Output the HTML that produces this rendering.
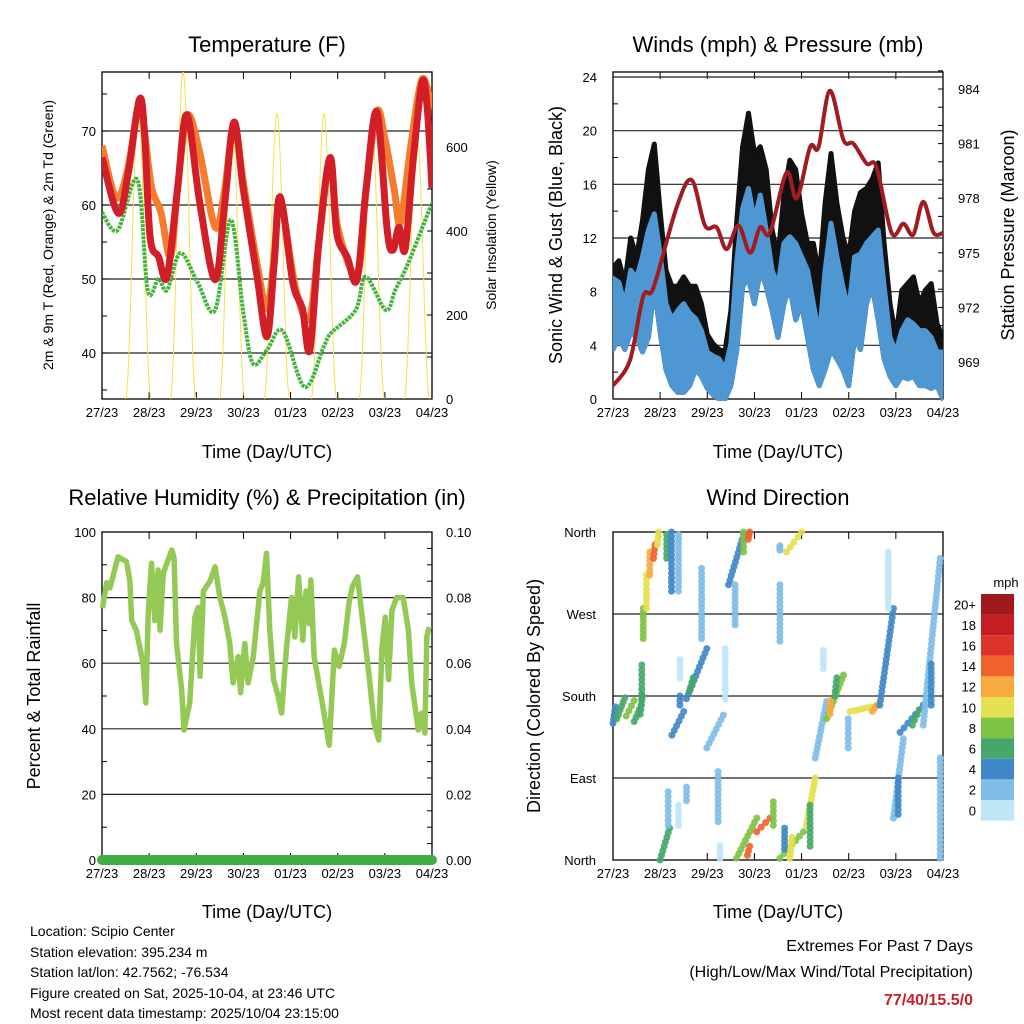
<!DOCTYPE html>
<html><head><meta charset="utf-8"><style>
html,body{margin:0;padding:0;background:#fff}
svg{display:block;font-family:"Liberation Sans",sans-serif}
</style></head><body>
<svg id="s" width="1024" height="1024" viewBox="0 0 1024 1024" xmlns="http://www.w3.org/2000/svg">
<g font-size="22" text-anchor="middle" fill="#000">
<text x="267" y="52">Temperature (F)</text>
<text x="778" y="52">Winds (mph) &amp; Pressure (mb)</text>
<text x="267" y="505">Relative Humidity (%) &amp; Precipitation (in)</text>
<text x="778" y="505">Wind Direction</text>
</g>
<g font-size="18" text-anchor="middle">
<text x="267" y="458">Time (Day/UTC)</text>
<text x="778" y="458">Time (Day/UTC)</text>
<text x="267" y="918">Time (Day/UTC)</text>
<text x="778" y="918">Time (Day/UTC)</text>
<text transform="translate(40,696) rotate(-90)">Percent &amp; Total Rainfall</text>
<text transform="translate(562,235) rotate(-90)">Sonic Wind &amp; Gust (Blue, Black)</text>
<text transform="translate(1014,235) rotate(-90)">Station Pressure (Maroon)</text>
<text transform="translate(540,696) rotate(-90)">Direction (Colored By Speed)</text>
</g>
<g font-size="14" text-anchor="middle">
<text transform="translate(53,235) rotate(-90)">2m &amp; 9m T (Red, Orange) &amp; 2m Td (Green)</text>
<text transform="translate(496,235) rotate(-90)">Solar Insolation (Yellow)</text>
</g>
<g font-size="14">
<text x="30" y="936">Location: Scipio Center</text>
<text x="30" y="957">Station elevation: 395.234 m</text>
<text x="30" y="977">Station lat/lon: 42.7562; -76.534</text>
<text x="30" y="998">Figure created on Sat, 2025-10-04, at 23:46 UTC</text>
<text x="30" y="1018">Most recent data timestamp: 2025/10/04 23:15:00</text>
</g>
<g font-size="16" text-anchor="end">
<text x="973" y="951">Extremes For Past 7 Days</text>
<text x="973" y="977">(High/Low/Max Wind/Total Precipitation)</text>
<text x="973" y="1005" fill="#c8202a" font-weight="bold">77/40/15.5/0</text>
</g>
</svg>
<script>
// ---- data ----
const dayLabels=["27/23","28/23","29/23","30/23","01/23","02/23","03/23","04/23"];
const tempTicks=[40,50,60,70];
const solarTicks=[0,200,400,600];
const windTicks=[0,4,8,12,16,20,24];
const presTicks=[969,972,975,978,981,984];
const rhTicks=[0,20,40,60,80,100];
const precipTicks=["0.00","0.02","0.04","0.06","0.08","0.10"];
const dirLabels=["North","East","South","West","North"];
const redT=[[0,66.4],[0.34,58.9],[0.55,64],[0.79,74.2],[0.9,70],[1.02,55.7],[1.2,53],[1.38,50.3],[1.6,62],[1.8,72.2],[2.08,60],[2.4,49.9],[2.6,60],[2.8,71.2],[3.0,62],[3.29,50.3],[3.5,42.2],[3.65,52],[3.78,61.1],[4.05,49.5],[4.25,46],[4.41,40.4],[4.6,55],[4.84,66.4],[4.98,56.2],[5.2,53],[5.41,49.9],[5.6,62],[5.83,72.6],[6.05,56.6],[6.17,53.9],[6.3,57],[6.43,54],[6.6,66],[6.79,76.6],[6.9,73],[7.0,62.3]];
const orangeT=[[0,68],[0.3,61],[0.55,65],[0.79,74],[0.9,70],[1.05,62.4],[1.25,59],[1.45,53],[1.6,62],[1.8,72],[2.05,67.8],[2.4,57],[2.6,62],[2.8,71],[3.0,63],[3.29,52],[3.5,46],[3.65,53],[3.78,61],[4.1,48.9],[4.4,44.7],[4.6,55],[4.84,66],[5.0,57],[5.41,50.5],[5.6,62],[5.83,72.6],[6.0,69],[6.2,62],[6.33,57.6],[6.55,68],[6.79,77],[7.0,73]];
const dewT=[[0,59],[0.33,56.6],[0.75,63.4],[0.97,48.5],[1.2,50],[1.38,48.5],[1.66,53.5],[2.03,49.5],[2.4,45.8],[2.73,58],[3.0,45.4],[3.2,38.6],[3.5,40.4],[3.83,43],[4.3,35.4],[4.7,40.8],[4.86,42.7],[5.38,45.8],[5.59,50.3],[6.02,45.8],[6.22,48.5],[6.5,52.2],[6.94,59.3],[7,60]];
const solarDay=[0.77,1.72,2.76,3.71,4.71,5.72,6.68];
const solarPeak=[688,780,660,681,681,664,633];
const windT=[0,0.125,0.25,0.375,0.5,0.625,0.75,0.875,1,1.125,1.25,1.375,1.5,1.625,1.75,1.875,2,2.125,2.25,2.375,2.5,2.625,2.75,2.875,3,3.125,3.25,3.375,3.5,3.625,3.75,3.875,4,4.125,4.25,4.375,4.5,4.625,4.75,4.875,5,5.125,5.25,5.375,5.5,5.625,5.75,5.875,6,6.125,6.25,6.375,6.5,6.625,6.75,6.875,7];
const gustHi=[9.8,10.3,8.6,12,10.6,13.3,17.1,19,14,9.6,8.4,8.4,9.1,8.4,8.4,7.1,4.8,4.1,3.7,3.5,6.6,13.3,18.8,21.3,18.3,18.8,17.1,12.6,10.6,15.2,17.8,17.1,13.8,11.6,11.6,9.1,14.6,18.3,14.6,12.1,10.6,14,15.4,15.7,16.4,17.6,11.6,7.1,4.6,8.1,8.6,9.1,7.1,8.1,8.6,5.6,4.6];
const sonicHi=[9,8.7,7,9.6,9,10.6,12.6,13.8,10.8,7.1,5.9,6.6,7.1,6.4,6,5.1,3.5,3.2,3,2.2,4.1,10.3,14.2,15.7,13.3,15.2,12.6,9.6,8.4,11.6,12.1,11.6,10.6,9.6,7.1,4.6,9.6,13.1,10.6,8.4,6.6,10.6,10.8,11.6,12.1,12.6,8.4,4.6,3.5,5.1,5.9,5.6,5.1,5.1,4.6,3.5,3.5];
const sonicLo=[3.7,4.6,3.7,5,4.6,3.5,4.6,8.4,5,2.2,1,0.5,0.5,1,2.2,1.7,0.8,0.3,0,0,1,3.7,8.4,9,7.1,9.6,8.4,6.6,4.6,7.1,8.4,5.9,7.1,4.6,2.2,1,2.2,3.7,3,2.2,1,4.6,3.7,7.1,8.4,5.9,3,1.7,1,1.7,1.5,1.7,1,1,0.8,1,0];
const presT=[[0,967.7],[0.36,969.1],[0.64,972.6],[0.86,973.1],[1.35,977.5],[1.67,979],[1.95,976.5],[2.2,976.4],[2.41,975.2],[2.66,976.5],[2.91,975],[3.12,976.4],[3.33,976.1],[3.68,979.4],[3.9,978],[4.18,980.8],[4.36,980.8],[4.6,983.9],[4.89,981.2],[5.1,981],[5.38,979.9],[5.59,979.7],[5.91,976.1],[6.16,976.6],[6.37,976],[6.58,977.8],[6.8,976.1],[7,976.1]];
const rhT=[[0.01,76.8],[0.1,84.5],[0.17,83],[0.34,92.4],[0.52,91],[0.59,85.4],[0.63,73],[0.73,70],[0.8,65],[0.87,60],[0.93,47.9],[0.98,75],[1.05,90.5],[1.12,73],[1.19,88.4],[1.23,70],[1.3,87.5],[1.48,94.5],[1.53,92],[1.58,66],[1.69,51.8],[1.74,39.6],[1.86,47.8],[1.97,74],[2.04,77],[2.08,56],[2.15,82],[2.29,85],[2.4,89.4],[2.5,80],[2.61,74],[2.71,66],[2.78,54],[2.89,62],[2.94,51],[3.03,66],[3.1,54],[3.21,62],[3.35,82],[3.42,84.5],[3.49,93.5],[3.56,70],[3.64,55],[3.74,49.8],[3.81,44.8],[3.91,64],[4.02,80],[4.09,68],[4.17,86.3],[4.26,67],[4.33,82],[4.4,72],[4.43,85.4],[4.5,62],[4.65,49.8],[4.82,35],[4.93,64],[5.03,59],[5.14,66],[5.24,78.3],[5.31,83.3],[5.42,86.3],[5.52,74],[5.66,57],[5.77,41.8],[5.87,36.6],[5.94,65],[6.01,74],[6.08,55],[6.15,76],[6.25,80],[6.39,80],[6.5,70],[6.57,54],[6.71,39.6],[6.78,44.8],[6.85,38.7],[6.89,68],[6.94,71]];
const precipT=[[0,0],[7,0]];
// wind direction clusters: [t0,t1,dirLo,dirHi,speed]
const dirClusters=[[0,0.05,150,168,4],[0.08,0.25,155,178,7],[0.28,0.45,158,175,8],[0.45,0.6,152,170,7],[0.58,0.62,160,180,7],[0.61,0.61,177,214,6],[0.64,0.64,243,276,8],[0.71,0.71,276,313,10],[0.78,0.78,313,338,12],[0.86,0.89,331,346,14],[0.94,0.97,346,360,11],[1.14,1.14,331,357,6],[1.24,1.24,295,360,4],[1.39,1.39,295,357,2],[1.0,1.2,0,35,6],[1.17,1.17,38,75,2],[1.39,1.39,38,60,1],[1.25,1.5,137,163,4],[1.42,1.42,170,180,5],[1.56,1.99,177,232,4],[1.62,1.7,185,200,6],[1.88,1.88,243,320,3],[1.42,1.42,200,220,1],[1.99,2.34,123,159,2],[2.38,2.38,177,232,1],[2.23,2.23,42,97,2],[1.56,1.56,65,80,2],[2.45,2.77,302,357,4],[2.59,2.59,258,302,3],[2.77,2.77,338,360,8],[2.87,2.9,352,360,14],[2.27,2.27,2,16,1],[2.62,3.05,2,46,8],[2.85,2.9,5,15,14],[3.05,3.33,31,46,15],[3.4,3.4,38,64,8],[3.54,4.04,2,31,9],[3.64,3.64,12,35,4],[3.75,3.8,2,25,11],[3.54,3.54,240,302,2],[3.54,3.54,340,345,3],[3.68,4.0,338,360,10],[4.1,4.29,38,90,10],[4.18,4.18,15,60,6],[4.29,4.53,112,174,3],[4.46,4.46,210,230,1],[4.53,4.89,155,203,9],[4.6,4.62,160,175,13],[4.7,4.75,180,200,7],[4.99,4.99,123,155,3],[5.03,5.66,163,170,11],[5.5,5.6,163,170,13],[5.66,5.95,170,276,4],[5.84,5.84,276,338,1],[5.95,6.16,46,133,2],[6.05,6.05,50,90,4],[6.09,6.58,140,170,5],[6.35,6.5,148,165,7],[6.58,6.94,148,331,2],[6.75,6.75,170,215,4],[6.94,6.94,2,112,2]];
const speedBins=["0","2","4","6","8","10","12","14","16","18","20+"];
const speedColors=["#bfe6f7","#80bde7","#3f87c7","#45a86a","#7dc245","#e4e04f","#f8aa40","#ef622d","#dc3428","#c21e24","#9e1a1c"];

// ---- helpers ----
const S=document.getElementById('s');
const NS="http://www.w3.org/2000/svg";
function mk(tag,attrs,parent){const e=document.createElementNS(NS,tag);for(const k in attrs)e.setAttribute(k,attrs[k]);(parent||S).appendChild(e);return e;}
function panel(x0,x1,y0,y1){return {x0,x1,y0,y1,sx:t=>x0+t*(x1-x0)/7};}
function lin(v0,p0,v1,p1){return v=>p0+(v-v0)*(p1-p0)/(v1-v0);}
function pathFrom(pts,sx,sy){return pts.map((p,i)=>(i?'L':'M')+sx(p[0]).toFixed(1)+','+sy(p[1]).toFixed(1)).join('');}
function smoothFrom(pts,sx,sy){const P=pts.map(p=>[sx(p[0]),sy(p[1])]);let d='M'+P[0][0].toFixed(1)+','+P[0][1].toFixed(1);
  for(let i=0;i<P.length-1;i++){const p0=P[Math.max(0,i-1)],p1=P[i],p2=P[i+1],p3=P[Math.min(P.length-1,i+2)];
    const c1=[p1[0]+(p2[0]-p0[0])/6,p1[1]+(p2[1]-p0[1])/6],c2=[p2[0]-(p3[0]-p1[0])/6,p2[1]-(p3[1]-p1[1])/6];
    d+='C'+c1[0].toFixed(1)+','+c1[1].toFixed(1)+' '+c2[0].toFixed(1)+','+c2[1].toFixed(1)+' '+p2[0].toFixed(1)+','+p2[1].toFixed(1);}
  return d;}
function frame(P,name){
  const g=mk('g',{});
  
  
  mk('rect',{x:P.x0,y:P.y0,width:P.x1-P.x0,height:P.y1-P.y0,fill:'none',stroke:'#000','stroke-width':1.3},g);
  for(let i=0;i<=7;i++){const x=P.sx(i);
    mk('line',{x1:x,x2:x,y1:P.y0,y2:P.y0+7,stroke:'#000'},g);
    mk('line',{x1:x,x2:x,y1:P.y1,y2:P.y1-7,stroke:'#000'},g);
    const t=mk('text',{x:x,y:P.y1+18,'font-size':13,'text-anchor':'middle'},g);t.textContent=dayLabels[i];
    
    
  }
  return g;
}
function hgrid(P,ys,g){ys.forEach(y=>mk('line',{x1:P.x0,x2:P.x1,y1:y,y2:y,stroke:'#222','stroke-width':1.2},g));}
function yLabels(g,vals,sy,x,anchor,fmt){vals.forEach(v=>{const t=mk('text',{x:x,y:sy(v)+5,'font-size':13,'text-anchor':anchor},g);t.textContent=fmt?fmt(v):v;
  
  });}
function ticksY(g,P,vals,sy,side,len){vals.forEach(v=>{const y=sy(v);if(side==='l')mk('line',{x1:P.x0,x2:P.x0+len,y1:y,y2:y,stroke:'#000'},g);else mk('line',{x1:P.x1,x2:P.x1-len,y1:y,y2:y,stroke:'#000'},g);});}

// ---- Temperature ----
const PT=panel(102,432,72,399);
const syT=lin(40,353,70,131), syS=lin(0,399,600,147);
const gT=frame(PT,'temperature');
hgrid(PT,tempTicks.map(syT),gT);
yLabels(gT,tempTicks,syT,96,'end');
yLabels(gT,solarTicks,syS,446,'start');
ticksY(gT,PT,[35,40,45,50,55,60,65,70,75],syT,'l',5);
ticksY(gT,PT,[0,100,200,300,400,500,600,700],syS,'r',5);
const clipT=mk('clipPath',{id:'cT'});mk('rect',{x:PT.x0,y:PT.y0,width:PT.x1-PT.x0,height:PT.y1-PT.y0},clipT);
const gTs=mk('g',{'clip-path':'url(#cT)'});
solarDay.forEach((c,i)=>{const pts=[];for(let k=0;k<=24;k++){const u=-0.27+k*0.54/24;const f=Math.cos(u/0.27*Math.PI/2);pts.push([c+u,solarPeak[i]*f*f]);}
  const p=mk('path',{d:pathFrom(pts,PT.sx,syS),fill:'none',stroke:'#f7e04a','stroke-width':1},gTs);
  
  });
const pd=mk('path',{d:smoothFrom(dewT,PT.sx,syT),fill:'none',stroke:'#45b23e','stroke-width':4,'stroke-dasharray':'3 1','stroke-linejoin':'round'},gTs);


const po=mk('path',{d:smoothFrom(orangeT,PT.sx,syT),fill:'none',stroke:'#f47d2d','stroke-width':7,'stroke-linejoin':'round'},gTs);


const pr=mk('path',{d:smoothFrom(redT,PT.sx,syT),fill:'none',stroke:'#d21f27','stroke-width':7,'stroke-linejoin':'round'},gTs);



// ---- Winds ----
const PW=panel(613,943,72,399);
const syW=lin(0,399,24,77), syP=lin(969,362,984,89);
const gW=frame(PW,'winds');
hgrid(PW,windTicks.map(syW),gW);
yLabels(gW,windTicks,syW,597,'end');
yLabels(gW,presTicks,syP,958,'start');
ticksY(gW,PW,[2,6,10,14,18,22],syW,'l',5);
ticksY(gW,PW,[968,969,970,971,972,973,974,975,976,977,978,979,980,981,982,983,984,985],syP,'r',5);
const clipW=mk('clipPath',{id:'cW'});mk('rect',{x:PW.x0,y:PW.y0,width:PW.x1-PW.x0,height:PW.y1-PW.y0+2},clipW);
const gWs=mk('g',{'clip-path':'url(#cW)'});
function band(hi,lo,color,name){let d='';windT.forEach((t,i)=>{d+=(i?'L':'M')+PW.sx(t).toFixed(1)+','+syW(hi[i]).toFixed(1);});
  for(let i=windT.length-1;i>=0;i--)d+='L'+PW.sx(windT[i]).toFixed(1)+','+syW(lo[i]).toFixed(1);
  const p=mk('path',{d:d+'Z',fill:color,stroke:color,'stroke-width':5,'stroke-linejoin':'round'},gWs);
  
  }
band(gustHi,sonicLo,'#111','gust-band');
band(sonicHi,sonicLo,'#4f97d3','sonic-band');
const pp=mk('path',{d:smoothFrom(presT,PW.sx,syP),fill:'none',stroke:'#a11c20','stroke-width':4,'stroke-linejoin':'round'},gWs);



// ---- RH ----
const PR=panel(102,432,532,860);
const syR=lin(0,860,100,532), syPr=lin(0,860,0.1,532);
const gR=frame(PR,'humidity');
hgrid(PR,[20,40,60,80].map(syR),gR);
yLabels(gR,rhTicks,syR,96,'end');
precipTicks.forEach(v=>{const t=mk('text',{x:446,y:syPr(+v)+5,'font-size':13},gR);t.textContent=v;
  
  });
ticksY(gR,PR,[10,30,50,70,90],syR,'l',5);
ticksY(gR,PR,[0.005,0.01,0.015,0.025,0.03,0.035,0.045,0.05,0.055,0.065,0.07,0.075,0.085,0.09,0.095],syPr,'r',5);
const prh=mk('path',{d:pathFrom(rhT,PR.sx,syR),fill:'none',stroke:'#93c954','stroke-width':5.5,'stroke-linejoin':'round'});


const ppr=mk('path',{d:pathFrom(precipT,PR.sx,syPr),fill:'none',stroke:'#3fae44','stroke-width':10,'stroke-linecap':'round'});



// ---- Wind direction ----
const PD=panel(613,943,532,860);
const syD=lin(0,860,360,532);
const gD=frame(PD,'direction');
hgrid(PD,[90,180,270].map(syD),gD);
dirLabels.forEach((l,i)=>{const t=mk('text',{x:596,y:syD(i*90)+5,'font-size':13,'text-anchor':'end'},gD);t.textContent=l;
  
  });
function spColor(s){return speedColors[Math.min(10,Math.floor(s/2))];}
dirClusters.forEach(c=>{const [t0,t1,d0,d1,sp]=c;const x0=PD.sx(t0),x1=PD.sx(t1),y0=syD(d0),y1=syD(d1);
  const n=Math.max(2,Math.round(Math.max(Math.abs(y1-y0),Math.abs(x1-x0))/4.5));
  const g=mk('g',{fill:spColor(sp),'fill-opacity':0.9});
  
  
  for(let k=0;k<=n;k++){const f=k/n;mk('circle',{cx:(x0+(x1-x0)*f).toFixed(1),cy:(y0+(y1-y0)*f).toFixed(1),r:3.5},g);}
});
// colorbar
const gC=mk('g',{});


const cbTop=594,cbH=20.6;
const mt=mk('text',{x:1006,y:587,'font-size':13,'text-anchor':'middle'},gC);mt.textContent='mph';
for(let i=0;i<11;i++){const idx=10-i;const y=cbTop+i*cbH;
  mk('rect',{x:981,y:y,width:33,height:cbH,fill:speedColors[idx]},gC);
  const t=mk('text',{x:976,y:y+cbH/2+5,'font-size':13,'text-anchor':'end'},gC);t.textContent=speedBins[idx];
  
  
}
</script>
</body></html>
